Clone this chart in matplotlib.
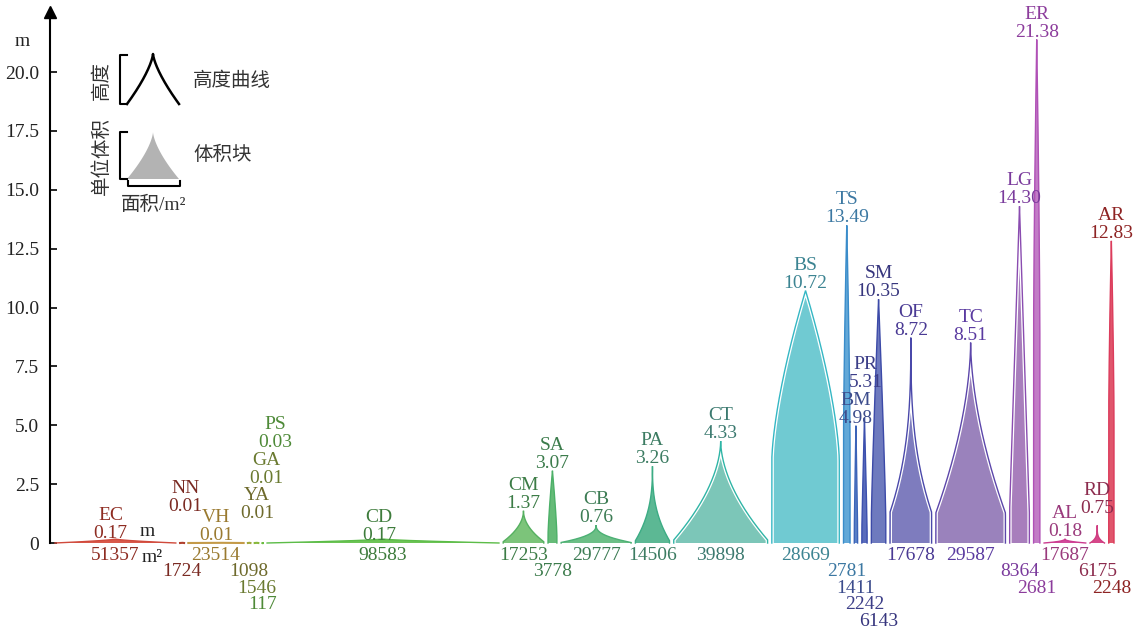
import numpy as np
import matplotlib
matplotlib.use("Agg")
import matplotlib.pyplot as plt
import matplotlib.patheffects as pe
from matplotlib.patches import Polygon
from matplotlib.lines import Line2D
from matplotlib.transforms import Affine2D

# ---- data -------------------------------------------------------------
codes = ["EC", "NN", "VH", "YA", "GA", "PS", "CD", "CM", "SA", "CB", "PA", "CT",
         "BS", "TS", "BM", "PR", "SM", "OF", "TC", "LG", "ER", "AL", "RD", "AR"]
areas = [51357, 1724, 23514, 1098, 1546, 117, 98583, 17253, 3778, 29777, 14506, 39898,
         28669, 2781, 1411, 2242, 6143, 17678, 29587, 8364, 2681, 17687, 6175, 2248]
heights = [0.17, 0.01, 0.01, 0.01, 0.01, 0.03, 0.17, 1.37, 3.07, 0.76, 3.26, 4.33,
           10.72, 13.49, 4.98, 5.31, 10.35, 8.72, 8.51, 14.30, 21.38, 0.18, 0.75, 12.83]
yticks = [0, 2.5, 5.0, 7.5, 10.0, 12.5, 15.0, 17.5, 20.0]
ytick_labels = ["0", "2.5", "5.0", "7.5", "10.0", "12.5", "15.0", "17.5", "20.0"]

# ---- styles -----------------------------------------------------------
fill_colors = ["#d9584a", "#b8483a", "#caa35a", "#a9a94a", "#94b84a", "#7cc04c",
               "#6cc455", "#7cc47a", "#66bb78", "#6cbf86", "#5cb894", "#7cc6b8",
               "#70cad2", "#62a8d8", "#5b82c8", "#5a6cbc", "#6e7abe", "#7e7cbe",
               "#9a82bc", "#a87ebc", "#c27cc6", "#d24a9c", "#d6488a", "#e0566c"]
line_colors = ["#d04a3c", "#b0402e", "#c49a48", "#a0a83a", "#88b83c", "#6cbc40",
               "#5cbc48", "#55b060", "#4cb068", "#4cb074", "#3cac84", "#2fb5a6",
               "#34b7c4", "#3a8cca", "#3c64b8", "#3c50ae", "#3c4aa8", "#4a48aa",
               "#5c46aa", "#8a4cb0", "#b050b6", "#cc3c90", "#d03c80", "#dc3c5c"]
text_colors = ["#8e2c22", "#7a2a22", "#9a7a30", "#6e6a2c", "#6a7a30", "#4e8a38",
               "#3e7c3c", "#3c7c46", "#3c7c4c", "#3c7c54", "#3c7c62", "#3c7a70",
               "#3c8492", "#3c78a2", "#3c4c8c", "#3c3e88", "#37367e", "#4a3a94",
               "#5a3aa0", "#7a3a9c", "#8c3c9c", "#9a3a7c", "#8c2c4e", "#8e2424"]
# profile of each block: (kind, vertical shoulder fraction, exponent, white seam)
profiles = [("cusp", 0.0, 1.5, False), ("cusp", 0.0, 1.0, False), ("cusp", 0.0, 1.0, False),
            ("cusp", 0.0, 1.0, False), ("cusp", 0.0, 1.0, False), ("cusp", 0.0, 1.0, False),
            ("cusp", 0.0, 1.5, False), ("cusp", 0.04, 2.0, False), ("arch", 0.1, 1.3, False),
            ("cusp", 0.03, 2.5, False), ("cusp", 0.03, 2.6, False), ("cusp", 0.03, 1.8, True),
            ("arch", 0.33, 1.5, True), ("arch", 0.3, 1.5, False), ("arch", 0.1, 1.1, False),
            ("arch", 0.1, 1.1, False), ("arch", 0.1, 1.2, False), ("cusp", 0.15, 2.8, True),
            ("cusp", 0.15, 1.75, True), ("arch", 0.1, 1.0, True), ("arch", 0.4, 1.5, False),
            ("cusp", 0.0, 2.5, False), ("cusp", 0.0, 4.0, False), ("arch", 0.4, 1.5, False)]
# label nudges in pixels (dx, dy) for crowded low blocks
label_nudge = {"NN": (3, -29), "YA": (8, -22), "GA": (10, -57), "PS": (13, -92),
               "PR": (1, -28), "RD": (0, -9), "EC": (-5, 2), "CD": (-4, 4)}
area_rows = [0, 1, 0, 1, 2, 3, 0, 0, 1, 0, 0, 0, 0, 1, 2, 3, 4, 0, 0, 1, 2, 0, 1, 2]

SERIF = ["Liberation Serif", "DejaVu Serif"]
CJK = ["Noto Sans CJK SC", "DejaVu Sans"]
MIX = ["Liberation Serif", "Noto Sans CJK SC"]
FS = 14
GAP = 1800          # spacing between blocks, in m²
W_PX, H_PX = 1137, 632

fig = plt.figure(figsize=(W_PX / 100, H_PX / 100), dpi=100)
fig.patch.set_facecolor("white")
ax = fig.add_axes([50 / W_PX, 0.0, 1080 / W_PX, 0.981])

total = sum(areas) + GAP * (len(areas) - 1)
px_per_unit = (1114 - 55) / total
ax.set_xlim(-5 / px_per_unit, (1130 - 55) / px_per_unit)
ax.set_ylim(-89 / 23.55, 531 / 23.55)
PT = 0.72  # points per pixel at dpi 100


def half_width(t, kind, s, p):
    u = np.clip((t - s) / (1 - s), 0, 1)
    g = (1 - u) ** p if kind == "cusp" else 1 - u ** p
    return np.where(t < s, 1.0, g)


t = np.concatenate([np.linspace(0, 0.9, 120), np.linspace(0.9, 1, 60)[1:]])

left = 0.0
for i, code in enumerate(codes):
    w, h = areas[i], heights[i]
    c = left + w / 2
    kind, s, p, seam = profiles[i]
    hw = w / 2 * half_width(t, kind, s, p)
    # outline = height curve, fill = volume block
    xs = np.concatenate([c - hw, (c + hw)[::-1]])
    ys = np.concatenate([t * h, (t * h)[::-1]])
    hf = h * (0.985 if seam else 1.0)
    ysf = np.concatenate([t * hf, (t * hf)[::-1]])
    ax.add_patch(Polygon(np.column_stack([xs, ysf]), closed=True,
                         facecolor=fill_colors[i], edgecolor="none", zorder=2))
    lw = 1.5 if h < 0.05 else 1.0
    effects = [pe.withStroke(linewidth=2.8, foreground="white")] if seam else None
    ax.plot(xs, ys, color=line_colors[i], lw=lw, zorder=3,
            solid_joinstyle="miter", path_effects=effects)

    dx, dy = label_nudge.get(code, (0, 0))
    ax.annotate(f"{h:.2f}", xy=(c, h), xytext=(dx * PT, (3 - dy) * PT),
                textcoords="offset points", ha="center", va="baseline",
                fontsize=FS, family=SERIF, color=text_colors[i], zorder=5)
    ax.annotate(code, xy=(c, h), xytext=(dx * PT, (21 - dy) * PT),
                textcoords="offset points", ha="center", va="baseline",
                fontsize=FS, family=SERIF, color=text_colors[i], zorder=5)
    row = area_rows[i]
    ax.annotate(str(w), xy=(c, 0), xytext=(0, -(12 + 16.5 * row) * PT),
                textcoords="offset points", ha="center", va="center",
                fontsize=FS, family=SERIF, color=text_colors[i],
                annotation_clip=False)
    left += w + GAP

# unit hints beside the first block
ec_c = areas[0] / 2
ax.annotate("m", xy=(ec_c, heights[0]), xytext=(32 * PT, 3 * PT),
            textcoords="offset points", ha="center", va="baseline",
            fontsize=FS, family=SERIF, color="#222222")
ax.annotate("m²", xy=(ec_c, 0), xytext=(37 * PT, -14 * PT),
            textcoords="offset points", ha="center", va="center",
            fontsize=FS, family=SERIF, color="#222222", annotation_clip=False)

# ---- axes -------------------------------------------------------------
for side in ("top", "right", "bottom"):
    ax.spines[side].set_visible(False)
ax.spines["left"].set_bounds(0, 531 / 23.55)
ax.spines["left"].set_linewidth(1.5)
ax.set_yticks(yticks)
ax.set_yticklabels(ytick_labels, family=SERIF, fontsize=FS, color="#222222")
ax.tick_params(axis="y", direction="in", length=5, width=1.2, pad=8)
ax.set_xticks([])
ax.plot([0], [1], marker="^", color="black", markersize=8,
        transform=ax.transAxes, clip_on=False, zorder=6)
fig.text(22 / W_PX, 1 - 42 / H_PX, "m", family=SERIF, fontsize=FS,
         ha="center", va="center", color="#222222")

# ---- legend (drawn in figure pixels) ---------------------------------
tr = Affine2D().scale(1 / W_PX, -1 / H_PX).translate(0, 1) + fig.transFigure

tt = np.linspace(0, 1, 100)
hw = 26 * (1 - tt) ** 1.4
lx = np.concatenate([153 - hw, (153 + hw)[::-1]])
ly = np.concatenate([104 - 50 * tt, (104 - 50 * tt)[::-1]])
fig.add_artist(Line2D(lx, ly, color="black", lw=1.8, transform=tr))

hw = 26 * (1 - tt) ** 1.5
bx = np.concatenate([153 - hw, (153 + hw)[::-1]])
by = np.concatenate([179 - 47 * tt, (179 - 47 * tt)[::-1]])
fig.add_artist(Polygon(np.column_stack([bx, by]), closed=True,
                       facecolor="#b3b3b3", edgecolor="none", transform=tr))

for y0, y1 in ((55, 104), (132, 179)):
    fig.add_artist(Line2D([127, 120, 120, 127], [y0, y0, y1, y1],
                          color="black", lw=1.5, transform=tr))
fig.add_artist(Line2D([128, 128, 180, 180], [181, 186, 186, 181],
                      color="black", lw=1.5, transform=tr))

fig.text(101 / W_PX, 1 - 80 / H_PX, "高度", family=CJK, fontsize=14,
         rotation=90, ha="center", va="center", color="#333333")
fig.text(101 / W_PX, 1 - 156 / H_PX, "单位体积", family=CJK, fontsize=14,
         rotation=90, ha="center", va="center", color="#333333")
fig.text(193 / W_PX, 1 - 80 / H_PX, "高度曲线", family=CJK, fontsize=14,
         ha="left", va="center", color="#333333")
fig.text(193 / W_PX, 1 - 155 / H_PX, "体积块", family=CJK, fontsize=14,
         ha="left", va="center", color="#333333")
fig.text(154 / W_PX, 1 - 205 / H_PX, "面积/m²", family=MIX, fontsize=14,
         ha="center", va="center", color="#333333")

fig.savefig("out.png", dpi=100, facecolor="white")
